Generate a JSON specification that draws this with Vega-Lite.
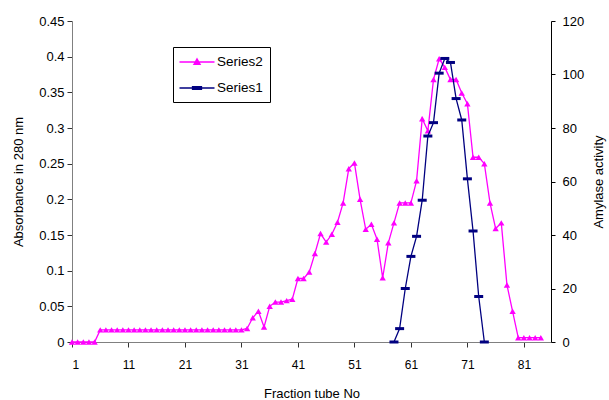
{
  "$schema": "https://vega.github.io/schema/vega-lite/v6.json",
  "width": 479,
  "height": 321,
  "autosize": {"type": "none"},
  "padding": {"left": 72, "top": 21, "right": 58, "bottom": 58},
  "background": "white",
  "config": {
    "view": {"stroke": null},
    "font": "Liberation Sans",
    "axis": {
      "labelFont": "Liberation Sans",
      "titleFont": "Liberation Sans",
      "labelFontSize": 13,
      "titleFontSize": 13,
      "titleFontWeight": "normal",
      "labelColor": "black",
      "titleColor": "black",
      "grid": false,
      "tickSize": 5,
      "tickWidth": 1,
      "domainWidth": 1
    }
  },
  "datasets": {
    "s2": [
      {"fraction": 1, "value": 0, "series": "Series2"},
      {"fraction": 2, "value": 0, "series": "Series2"},
      {"fraction": 3, "value": 0, "series": "Series2"},
      {"fraction": 4, "value": 0, "series": "Series2"},
      {"fraction": 5, "value": 0, "series": "Series2"},
      {"fraction": 6, "value": 0.017, "series": "Series2"},
      {"fraction": 7, "value": 0.017, "series": "Series2"},
      {"fraction": 8, "value": 0.017, "series": "Series2"},
      {"fraction": 9, "value": 0.017, "series": "Series2"},
      {"fraction": 10, "value": 0.017, "series": "Series2"},
      {"fraction": 11, "value": 0.017, "series": "Series2"},
      {"fraction": 12, "value": 0.017, "series": "Series2"},
      {"fraction": 13, "value": 0.017, "series": "Series2"},
      {"fraction": 14, "value": 0.017, "series": "Series2"},
      {"fraction": 15, "value": 0.017, "series": "Series2"},
      {"fraction": 16, "value": 0.017, "series": "Series2"},
      {"fraction": 17, "value": 0.017, "series": "Series2"},
      {"fraction": 18, "value": 0.017, "series": "Series2"},
      {"fraction": 19, "value": 0.017, "series": "Series2"},
      {"fraction": 20, "value": 0.017, "series": "Series2"},
      {"fraction": 21, "value": 0.017, "series": "Series2"},
      {"fraction": 22, "value": 0.017, "series": "Series2"},
      {"fraction": 23, "value": 0.017, "series": "Series2"},
      {"fraction": 24, "value": 0.017, "series": "Series2"},
      {"fraction": 25, "value": 0.017, "series": "Series2"},
      {"fraction": 26, "value": 0.017, "series": "Series2"},
      {"fraction": 27, "value": 0.017, "series": "Series2"},
      {"fraction": 28, "value": 0.017, "series": "Series2"},
      {"fraction": 29, "value": 0.017, "series": "Series2"},
      {"fraction": 30, "value": 0.017, "series": "Series2"},
      {"fraction": 31, "value": 0.017, "series": "Series2"},
      {"fraction": 32, "value": 0.019, "series": "Series2"},
      {"fraction": 33, "value": 0.034, "series": "Series2"},
      {"fraction": 34, "value": 0.043, "series": "Series2"},
      {"fraction": 35, "value": 0.021, "series": "Series2"},
      {"fraction": 36, "value": 0.05, "series": "Series2"},
      {"fraction": 37, "value": 0.056, "series": "Series2"},
      {"fraction": 38, "value": 0.056, "series": "Series2"},
      {"fraction": 39, "value": 0.058, "series": "Series2"},
      {"fraction": 40, "value": 0.06, "series": "Series2"},
      {"fraction": 41, "value": 0.089, "series": "Series2"},
      {"fraction": 42, "value": 0.089, "series": "Series2"},
      {"fraction": 43, "value": 0.098, "series": "Series2"},
      {"fraction": 44, "value": 0.124, "series": "Series2"},
      {"fraction": 45, "value": 0.152, "series": "Series2"},
      {"fraction": 46, "value": 0.14, "series": "Series2"},
      {"fraction": 47, "value": 0.151, "series": "Series2"},
      {"fraction": 48, "value": 0.168, "series": "Series2"},
      {"fraction": 49, "value": 0.195, "series": "Series2"},
      {"fraction": 50, "value": 0.243, "series": "Series2"},
      {"fraction": 51, "value": 0.251, "series": "Series2"},
      {"fraction": 52, "value": 0.2, "series": "Series2"},
      {"fraction": 53, "value": 0.158, "series": "Series2"},
      {"fraction": 54, "value": 0.165, "series": "Series2"},
      {"fraction": 55, "value": 0.144, "series": "Series2"},
      {"fraction": 56, "value": 0.09, "series": "Series2"},
      {"fraction": 57, "value": 0.139, "series": "Series2"},
      {"fraction": 58, "value": 0.167, "series": "Series2"},
      {"fraction": 59, "value": 0.195, "series": "Series2"},
      {"fraction": 60, "value": 0.195, "series": "Series2"},
      {"fraction": 61, "value": 0.195, "series": "Series2"},
      {"fraction": 62, "value": 0.226, "series": "Series2"},
      {"fraction": 63, "value": 0.313, "series": "Series2"},
      {"fraction": 64, "value": 0.296, "series": "Series2"},
      {"fraction": 65, "value": 0.368, "series": "Series2"},
      {"fraction": 66, "value": 0.397, "series": "Series2"},
      {"fraction": 67, "value": 0.385, "series": "Series2"},
      {"fraction": 68, "value": 0.368, "series": "Series2"},
      {"fraction": 69, "value": 0.368, "series": "Series2"},
      {"fraction": 70, "value": 0.349, "series": "Series2"},
      {"fraction": 71, "value": 0.334, "series": "Series2"},
      {"fraction": 72, "value": 0.259, "series": "Series2"},
      {"fraction": 73, "value": 0.259, "series": "Series2"},
      {"fraction": 74, "value": 0.25, "series": "Series2"},
      {"fraction": 75, "value": 0.195, "series": "Series2"},
      {"fraction": 76, "value": 0.159, "series": "Series2"},
      {"fraction": 77, "value": 0.167, "series": "Series2"},
      {"fraction": 78, "value": 0.08, "series": "Series2"},
      {"fraction": 79, "value": 0.043, "series": "Series2"},
      {"fraction": 80, "value": 0.006, "series": "Series2"},
      {"fraction": 81, "value": 0.006, "series": "Series2"},
      {"fraction": 82, "value": 0.006, "series": "Series2"},
      {"fraction": 83, "value": 0.006, "series": "Series2"},
      {"fraction": 84, "value": 0.006, "series": "Series2"}
    ],
    "s1": [
      {"fraction": 58, "value": 0, "series": "Series1"},
      {"fraction": 59, "value": 5, "series": "Series1"},
      {"fraction": 60, "value": 20, "series": "Series1"},
      {"fraction": 61, "value": 32, "series": "Series1"},
      {"fraction": 62, "value": 39.5, "series": "Series1"},
      {"fraction": 63, "value": 53, "series": "Series1"},
      {"fraction": 64, "value": 77, "series": "Series1"},
      {"fraction": 65, "value": 82, "series": "Series1"},
      {"fraction": 66, "value": 100.5, "series": "Series1"},
      {"fraction": 67, "value": 106, "series": "Series1"},
      {"fraction": 68, "value": 104.5, "series": "Series1"},
      {"fraction": 69, "value": 91, "series": "Series1"},
      {"fraction": 70, "value": 83, "series": "Series1"},
      {"fraction": 71, "value": 61, "series": "Series1"},
      {"fraction": 72, "value": 41.5, "series": "Series1"},
      {"fraction": 73, "value": 17, "series": "Series1"},
      {"fraction": 74, "value": 0, "series": "Series1"}
    ]
  },
  "encoding": {
    "x": {
      "field": "fraction",
      "type": "quantitative",
      "scale": {"domain": [1, 85.8], "nice": false, "zero": false},
      "axis": {
        "values": [1, 11, 21, 31, 41, 51, 61, 71, 81],
        "title": "Fraction tube No",
        "labelFontSize": 12,
        "labelPadding": 12,
        "titlePadding": 17,
        "domainColor": "#808080",
        "tickColor": "#333333"
      }
    },
    "color": {
      "field": "series",
      "type": "nominal",
      "scale": {"domain": ["Series2", "Series1"], "range": ["#FF00FF", "#000080"]},
      "legend": {
        "orient": "none",
        "legendX": 101,
        "legendY": 26,
        "title": null,
        "strokeColor": "black",
        "fillColor": "white",
        "padding": 7,
        "labelFont": "Liberation Sans",
        "labelFontSize": 13.5,
        "labelColor": "black",
        "rowPadding": 11,
        "symbolSize": 196,
        "symbolStrokeWidth": 1.3,
        "symbolOffset": 9,
        "labelOffset": 12,
        "encode": {
          "symbols": {
            "update": {
              "shape": {"signal": "datum.value === 'Series2' ? 'M-2.5,0L2.5,0M-0.45,0.35L0,-0.45L0.45,0.35Z' : 'M-2.5,0L2.5,0M-0.64,-0.21L0.64,-0.21L0.64,0.21L-0.64,0.21Z'"},
              "fill": {"signal": "datum.value === 'Series2' ? '#FF00FF' : '#000080'"},
              "stroke": {"signal": "datum.value === 'Series2' ? '#FF00FF' : '#000080'"},
              "opacity": {"value": 1},
              "fillOpacity": {"value": 1},
              "strokeOpacity": {"value": 1}
            }
          }
        }
      }
    }
  },
  "layer": [
    {
      "data": {"name": "s2"},
      "encoding": {
        "y": {
          "field": "value",
          "type": "quantitative",
          "scale": {"domain": [0, 0.45], "nice": false},
          "axis": {
            "orient": "left",
            "values": [0, 0.05, 0.1, 0.15, 0.2, 0.25, 0.3, 0.35, 0.4, 0.45],
            "format": ".2~f",
            "title": "Absorbance in  280 nm",
            "labelPadding": 3,
            "titlePadding": 13,
            "domainColor": "#808080",
            "tickColor": "#333333"
          }
        }
      },
      "layer": [
        {"mark": {"type": "line", "strokeWidth": 1.3}},
        {"mark": {"type": "point", "shape": "triangle-up", "filled": true, "size": 40, "opacity": 1}}
      ]
    },
    {
      "data": {"name": "s1"},
      "encoding": {
        "y": {
          "field": "value",
          "type": "quantitative",
          "scale": {"domain": [0, 120], "nice": false},
          "axis": {
            "orient": "right",
            "values": [0, 20, 40, 60, 80, 100, 120],
            "title": "Amylase activity",
            "titleAngle": 270,
            "labelPadding": 7,
            "titlePadding": 22,
            "domainColor": "black",
            "tickColor": "black",
            "tickSize": 4
          }
        }
      },
      "layer": [
        {"mark": {"type": "line", "strokeWidth": 1.3}},
        {"mark": {"type": "point", "shape": "M-0.9,-0.3L0.9,-0.3L0.9,0.3L-0.9,0.3Z", "filled": true, "size": 100, "opacity": 1}}
      ]
    }
  ],
  "resolve": {"scale": {"y": "independent"}}
}
